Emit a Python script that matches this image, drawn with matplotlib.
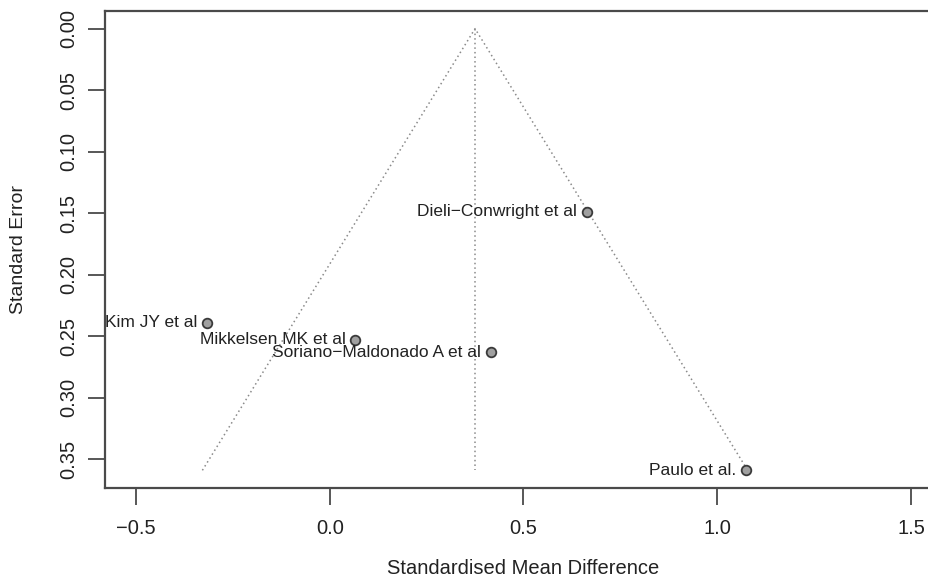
import numpy as np
import matplotlib
matplotlib.use("Agg")
import matplotlib.pyplot as plt

# studies in the funnel plot
studies = ["Dieli\u2212Conwright et al", "Kim JY et al", "Mikkelsen MK et al",
           "Soriano\u2212Maldonado A et al", "Paulo et al."]
smd = [0.663, -0.316, 0.066, 0.416, 1.074]
se = [0.149, 0.239, 0.253, 0.263, 0.359]

pooled = 0.375      # pooled estimate (funnel centre)
z = 1.96

xticks = [-0.5, 0.0, 0.5, 1.0, 1.5]
yticks = [0.00, 0.05, 0.10, 0.15, 0.20, 0.25, 0.30, 0.35]

plt.rcParams['font.family'] = ['Liberation Sans', 'DejaVu Sans']

fig = plt.figure(figsize=(9.29, 5.78), dpi=100)
ax = fig.add_axes([0.113, 0.1557, 0.901, 0.8253])

axcol = '#4a4a4a'
txtcol = '#222222'

# pseudo confidence region
se_max = max(se)
ax.plot([pooled - z * se_max, pooled, pooled + z * se_max], [se_max, 0, se_max],
        color='#8a8a8a', lw=1.1, linestyle=(0, (1, 2)))
ax.plot([pooled, pooled], [0, se_max], color='#8a8a8a', lw=1.1, linestyle=(0, (1, 2)))

ax.scatter(smd, se, s=48, facecolor='#a0a0a0', edgecolor='#3a3a3a', lw=1.3, zorder=3)
for name, x, y in zip(studies, smd, se):
    ax.annotate(name, (x, y), xytext=(-7, 0), textcoords='offset points',
                ha='right', va='center', fontsize=12.5, color=txtcol)

# R style 4% padding
xr = 1.5 - (-0.5)
ax.set_xlim(-0.5 - 0.04 * xr, 1.5 + 0.04 * xr)
ax.set_ylim(se_max * 1.04, -0.04 * se_max)

ax.set_xticks(xticks)
ax.set_xticklabels([f"{t:.1f}".replace('-', '\u2212') for t in xticks])
ax.set_yticks(yticks)
ax.set_yticklabels([f"{t:.2f}" for t in yticks], rotation=90, va='center')

ax.tick_params(axis='both', length=12, width=1.3, color=axcol, labelsize=14.5,
               labelcolor=txtcol)
ax.tick_params(axis='x', pad=10)
ax.tick_params(axis='y', pad=7.5)
for sp in ax.spines.values():
    sp.set_color(axcol)
    sp.set_linewidth(1.6)

ax.set_xlabel("Standardised Mean Difference", fontsize=14.5, color=txtcol, labelpad=15.5)
ax.set_ylabel("Standard Error", fontsize=14, color=txtcol, labelpad=23)

fig.savefig("out.png", dpi=100)
